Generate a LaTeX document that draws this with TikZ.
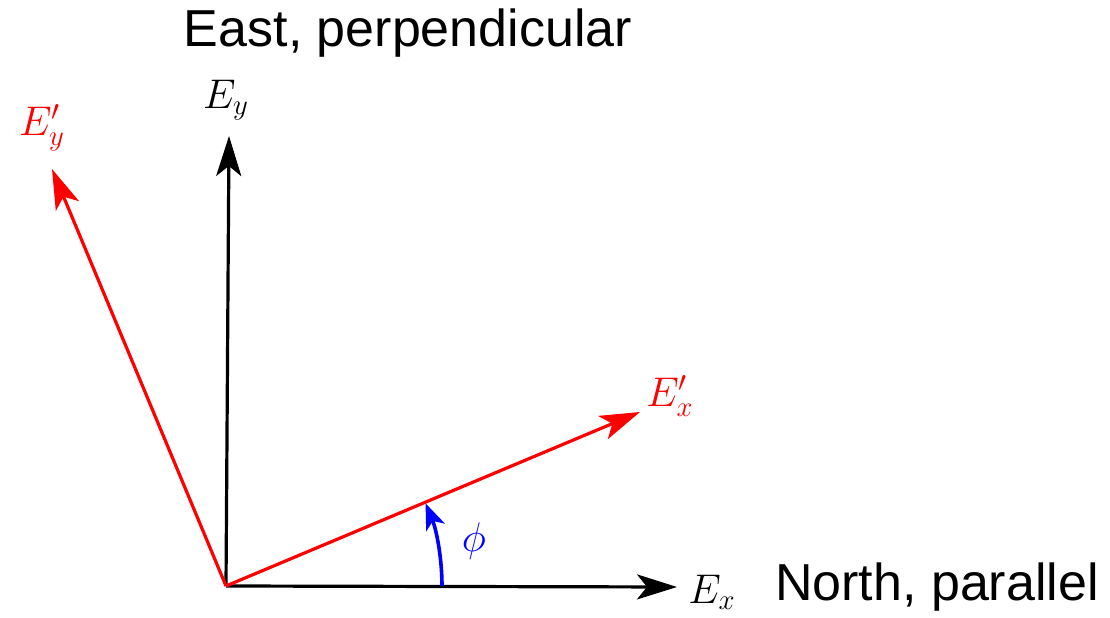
\documentclass[tikz,border=0pt]{standalone}
\usepackage{fontspec}
\newfontfamily\axisfont{Liberation Sans}
\usetikzlibrary{arrows.meta,positioning}

\begin{document}
\begin{tikzpicture}[x=0.5pt,y=0.5pt]
  \tikzstyle{ax}=[line width=1.6pt,-{Stealth[length=20pt,width=12.5pt,inset=5pt]}]
  \tikzstyle{lbl}=[inner sep=0pt,font=\huge]
  \tikzstyle{compass}=[inner sep=0pt,anchor=base,font=\axisfont\fontsize{26}{30}\selectfont]
  \useasboundingbox (0,0) rectangle (1110,617);
  \coordinate (o) at (226,31);
  \coordinate (ex) at (677,30);
  \coordinate (ey) at (229,481);
  \coordinate (exr) at (640,205);
  \coordinate (eyr) at (52,448);
  \coordinate (a0) at (442,31);
  % original and rotated axes
  \draw[ax] (o)--(ex);
  \draw[ax] (o)--(ey);
  \draw[ax,red] (o)--(exr);
  \draw[ax,red] (o)--(eyr);
  % rotation angle
  \draw[blue,line width=1.8pt,-{Stealth[length=13pt,width=10pt,inset=3.5pt]}] (a0) arc[start angle=0,end angle=22.5,radius=216];
  \node[lbl] (lx) at (712,25) {$E_x$};
  \node[lbl] (ly) at (226,517) {$E_y$};
  \node[lbl,red] (lxr) at (670,221) {$E'_x$};
  \node[lbl,red] (lyr) at (42,489) {$E'_y$};
  \node[lbl,blue] (lphi) at (474,76) {$\phi$};
  \node[compass] (east) at (408,570) {East, perpendicular};
  \node[compass] (north) at (937,17) {North, parallel};
\end{tikzpicture}
\end{document}
